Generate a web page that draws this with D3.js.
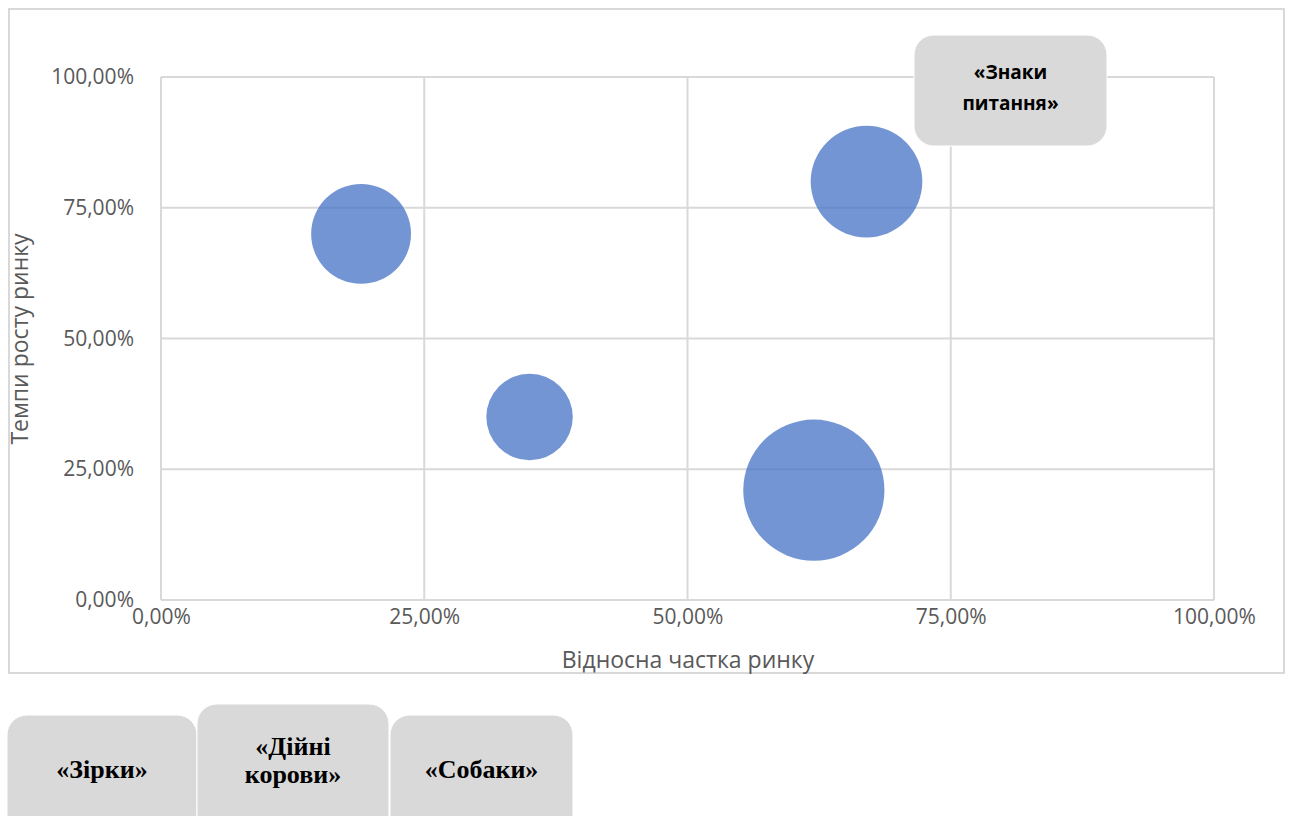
<!DOCTYPE html>
<meta charset="utf-8">
<style>
body { margin: 0; background: #fff; }
.tick text { font: 21px "Open Sans", sans-serif; fill: #595959; }
.title { font: 23px "Open Sans", sans-serif; fill: #595959; }
.box-sans { font: bold 19px "Open Sans", sans-serif; fill: #000; }
.box-serif { font: bold 26px "Liberation Serif", serif; fill: #000; }
</style>
<svg width="1290" height="816"></svg>
<script src="https://d3js.org/d3.v7.min.js"></script>
<script>

// bubble data
var shareX = [0.19, 0.35, 0.62, 0.67];
var growthY = [0.70, 0.35, 0.21, 0.80];
var sizes = [20, 15, 40, 25];
var tickVals = [0, 0.25, 0.5, 0.75, 1];

var svg = d3.select("svg");

var margin = {left: 161, top: 77, right: 1214, bottom: 600};

var x = d3.scaleLinear().domain([0, 1]).range([margin.left, margin.right]);
var y = d3.scaleLinear().domain([0, 1]).range([margin.bottom, margin.top]);
var r = d3.scaleSqrt().domain([0, 40]).range([0, 70.6]);

var fmt = function(d) { return d3.format(".2f")(d * 100).replace(".", ",") + "%"; };

// chart frame
svg.append("rect")
    .attr("x", 9).attr("y", 9)
    .attr("width", 1275).attr("height", 664)
    .attr("fill", "#fff")
    .attr("stroke", "#d9d9d9")
    .attr("stroke-width", 2);

// gridlines
svg.append("g").selectAll("line")
  .data(tickVals)
  .join("line")
    .attr("x1", margin.left).attr("x2", margin.right)
    .attr("y1", function(d) { return y(d); })
    .attr("y2", function(d) { return y(d); })
    .attr("stroke", "#d9d9d9").attr("stroke-width", 2);

svg.append("g").selectAll("line")
  .data(tickVals)
  .join("line")
    .attr("y1", margin.top).attr("y2", margin.bottom)
    .attr("x1", function(d) { return x(d); })
    .attr("x2", function(d) { return x(d); })
    .attr("stroke", "#d9d9d9").attr("stroke-width", 2);

// axes (labels only)
var xAxis = svg.append("g")
    .attr("transform", "translate(0," + margin.bottom + ")")
    .call(d3.axisBottom(x).tickValues(tickVals).tickFormat(fmt).tickSize(0).tickPadding(9));
xAxis.select(".domain").remove();

var yAxis = svg.append("g")
    .attr("transform", "translate(" + margin.left + ",0)")
    .call(d3.axisLeft(y).tickValues(tickVals).tickFormat(fmt).tickSize(0).tickPadding(27));
yAxis.select(".domain").remove();

// bubbles
svg.append("g").selectAll("circle")
  .data(shareX)
  .join("circle")
    .attr("cx", function(d) { return x(d); })
    .attr("cy", function(d, i) { return y(growthY[i]); })
    .attr("r", function(d, i) { return r(sizes[i]); })
    .attr("fill", "#4472C4")
    .attr("fill-opacity", 0.75);

// axis titles
svg.append("text")
    .attr("class", "title")
    .attr("x", 688).attr("y", 668)
    .attr("text-anchor", "middle")
    .text("Відносна частка ринку");

svg.append("text")
    .attr("class", "title")
    .attr("transform", "translate(28,339) rotate(-90)")
    .attr("text-anchor", "middle")
    .text("Темпи росту ринку");

// quadrant label boxes
function box(bx, by, bw, bh, lines, cls, lh, ty) {
  svg.append("rect")
      .attr("x", bx).attr("y", by)
      .attr("width", bw).attr("height", bh)
      .attr("rx", 20)
      .attr("fill", "#d9d9d9")
      .attr("stroke", "#fff")
      .attr("stroke-width", 1);
  var t = svg.append("text")
      .attr("class", cls)
      .attr("text-anchor", "middle");
  lines.forEach(function(s, i) {
    t.append("tspan")
        .attr("x", bx + bw / 2)
        .attr("y", ty + i * lh)
        .text(s);
  });
}

box(914, 35, 193, 111, ["«Знаки", "питання»"], "box-sans", 31, 79);
box(7, 715, 190, 120, ["«Зірки»"], "box-serif", 0, 778);
box(197, 704, 192, 130, ["«Дійні", "корови»"], "box-serif", 28, 755);
box(390, 715, 183, 120, ["«Собаки»"], "box-serif", 0, 778);

</script>
